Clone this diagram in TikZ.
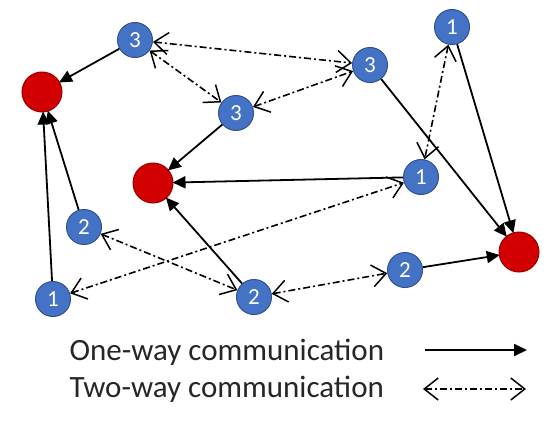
\documentclass[tikz,border=0pt]{standalone}
\usepackage{fontspec}
\setmainfont{Carlito}
\usetikzlibrary{arrows.meta}
\definecolor{nodeblue}{RGB}{68,114,196}
\definecolor{nodeblueborder}{RGB}{47,82,150}
\definecolor{nodered}{RGB}{210,0,0}
\definecolor{noderedborder}{RGB}{150,0,0}
\begin{document}
\begin{tikzpicture}[x=1pt,y=-1pt,
  bnode/.style={circle,fill=nodeblue,draw=nodeblueborder,line width=1pt,minimum size=35pt,inner sep=0pt,text=white,font=\fontsize{23}{23}\selectfont},
  rnode/.style={circle,fill=nodered,draw=noderedborder,line width=1pt,minimum size=40pt,inner sep=0pt},
  oneway/.style={line width=1.8pt,-{Triangle[length=13pt,width=12pt]},shorten >=-1pt},
  twoway/.style={line width=1.6pt,dash pattern=on 7pt off 3pt on 2pt off 3pt,
    {Straight Barb[length=14pt,width=22pt,line width=1.5pt]}-{Straight Barb[length=14pt,width=22pt,line width=1.5pt]}},
  legtext/.style={anchor=west,font=\fontsize{31}{31}\selectfont,text=black!85}
]
\useasboundingbox (0,0) rectangle (553,420);
% blue nodes
\node[bnode] (b3a) at (135,40) {3};
\node[bnode] (b3b) at (370,65) {3};
\node[bnode] (b3c) at (236,113) {3};
\node[bnode] (b1a) at (452,27) {1};
\node[bnode] (b1b) at (421,177) {1};
\node[bnode] (b2a) at (84,227) {2};
\node[bnode] (b1c) at (53,299) {1};
\node[bnode] (b2b) at (254,297) {2};
\node[bnode] (b2c) at (405,270) {2};
% red nodes
\node[rnode] (ra) at (42,92) {};
\node[rnode] (rb) at (153,183) {};
\node[rnode] (rc) at (519,252) {};
% one-way
\draw[oneway] (b3a) -- (ra);
\draw[oneway] (b3c) -- (rb);
\draw[oneway] (b1b) -- (rb);
\draw[oneway] (b2b) -- (rb);
\draw[oneway] (b1c) -- (ra);
\draw[oneway] (b2a) -- (ra);
\draw[oneway] (b3b) -- (rc);
\draw[oneway] (b1a) -- (rc);
\draw[oneway] (b2c) -- (rc);
% two-way
\draw[twoway] (b3a) -- (b3b);
\draw[twoway] (b3a) -- (b3c);
\draw[twoway] (b3c) -- (b3b);
\draw[twoway] (b1a) -- (b1b);
\draw[twoway] (b1c) -- (b1b);
\draw[twoway] (b2a) -- (b2b);
\draw[twoway] (b2b) -- (b2c);
% legend
\node[legtext] (l1) at (66,352) {One-way communication};
\node[legtext] (l2) at (66,389) {Two-way communication};
\coordinate (a1s) at (425,350);
\coordinate (a1e) at (527,350);
\coordinate (a2s) at (423,389);
\coordinate (a2e) at (526,389);
\draw[line width=1.8pt,-{Triangle[length=13pt,width=12pt]}] (a1s) -- (a1e);
\draw[twoway] (a2s) -- (a2e);
\end{tikzpicture}
\end{document}
